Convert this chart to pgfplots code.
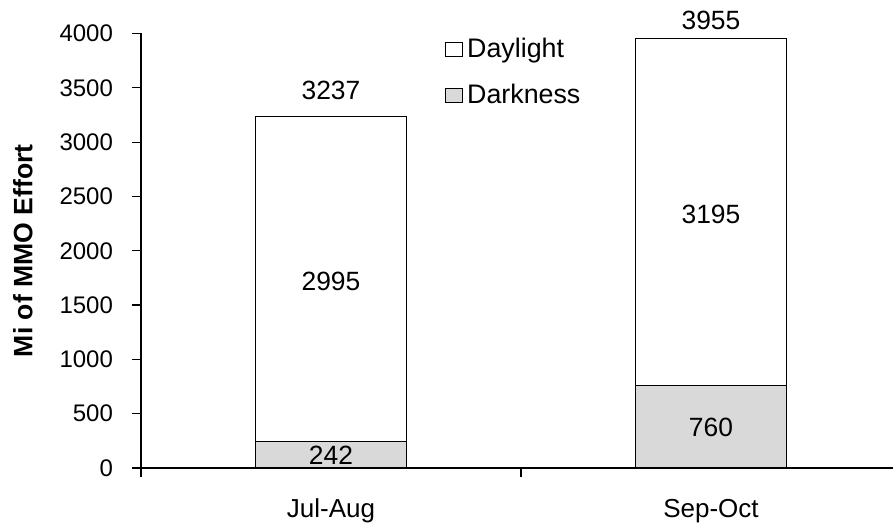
\documentclass[border=0pt]{standalone}
\usepackage{fontspec}
\setmainfont{Liberation Sans}
\usepackage{pgfplots}
\pgfplotsset{compat=1.18}
\usetikzlibrary{calc}
\definecolor{DarkFill}{RGB}{217,217,217}
\pgfplotsset{box legend/.style={legend image code/.code={\draw[##1, line width=0.5pt] (0pt,-3.5pt) rectangle (8.5pt,3.5pt);}}}
\newcommand{\datafont}{\fontsize{13.2}{15}\selectfont}
\begin{document}
\begin{tikzpicture}
\begin{axis}[
    scale only axis, width=376pt, height=217.25pt,
    ybar stacked, bar width=75.5pt,
    xmin=0, xmax=1.979, ymin=0, ymax=4000,
    axis lines=left, axis line style={-, line width=0.7pt},
    xtick={0.5,1.5}, xticklabels={Jul-Aug,Sep-Oct},
    major x tick style={draw=none},
    minor xtick={0,1},
    ytick={0,500,...,4000},
    scaled y ticks=false,
    tick align=outside, tick style={black, line width=0.6pt},
    major tick length=4.5pt, minor tick length=4.5pt,
    /pgf/number format/assume math mode=true,
    /pgf/number format/1000 sep={},
    yticklabel style={font=\fontsize{12}{14}\selectfont, xshift=-6pt},
    xticklabel style={font=\fontsize{13}{15}\selectfont, yshift=-7.5pt},
    ylabel={Mi of MMO Effort},
    ylabel style={at={(axis description cs:-0.157,0.5)}, anchor=center, font=\fontsize{13.3}{15}\selectfont\bfseries},
    clip=false,
    reverse legend,
    legend style={at={(axis description cs:0.404,1.0)}, anchor=north west, draw=none, fill=none,
        font=\fontsize{13.4}{15}\selectfont, row sep=8pt, inner sep=0pt, cells={anchor=west}},
]
\addplot[fill=DarkFill, draw=black, line width=0.7pt, box legend] coordinates {(0.5,242) (1.5,760)};
\addlegendentry{Darkness}
\addplot[fill=white, draw=black, line width=0.7pt, box legend] coordinates {(0.5,2995) (1.5,3195)};
\addlegendentry{Daylight}
\coordinate (t1) at (axis cs:0.5,3475);
\coordinate (t2) at (axis cs:1.5,4124);
\coordinate (m1) at (axis cs:0.5,1720);
\coordinate (m2) at (axis cs:1.5,2330);
\coordinate (b1) at (axis cs:0.5,121);
\coordinate (b2) at (axis cs:1.5,370);
\end{axis}
\node[font=\datafont] at (t1) {3237};
\node[font=\datafont] at (t2) {3955};
\node[font=\datafont] at (m1) {2995};
\node[font=\datafont] at (m2) {3195};
\node[font=\datafont] at (b1) {242};
\node[font=\datafont] at (b2) {760};
\pgfresetboundingbox
\path[use as bounding box] ($(current axis.south west)+(-70.5pt,-28.5pt)$) rectangle ($(current axis.north east)+(0pt,16.75pt)$);
\end{tikzpicture}
\end{document}
